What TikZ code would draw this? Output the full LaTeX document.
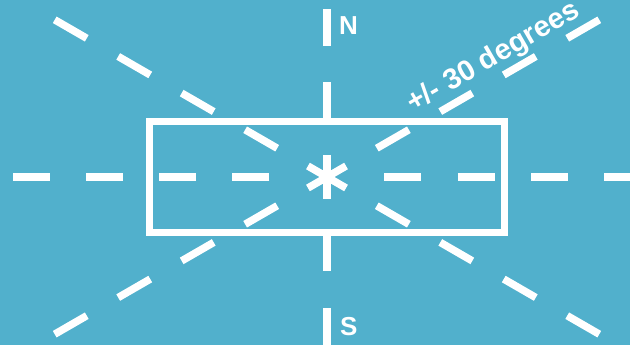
\documentclass[tikz,border=0pt]{standalone}
\usepackage{fontspec}
\setmainfont{Liberation Sans}
\definecolor{skyblue}{RGB}{81,176,204}
\tikzset{dashseg/.style={draw=white, line width=7.5pt},
  frame/.style={draw=white, line width=7pt},
  lbl/.style={text=white, font=\bfseries\fontsize{26}{30}\selectfont, inner sep=0pt}}

\begin{document}
\begin{tikzpicture}[x=1pt, y=1pt]
  \fill[skyblue] (-327,-168) rectangle (303,177);
  \useasboundingbox (-327,-168) rectangle (303,177);
  \clip (-327,-168) rectangle (303,177);
  % rays, four dashes on each side of the centre
  \foreach \a in {0,30,90,150,180,210,270,330}
    \foreach \k in {0,...,3}
      \draw[dashseg] (\a:{57.5+73.3*\k}) -- (\a:{94.5+73.3*\k});
  \draw[frame] (-177.3,-55.3) rectangle (177.3,55.3);
  % asterisk
  \foreach \a in {90,30,150}
    \draw[dashseg] (\a:22) -- (\a+180:22);
  \node[lbl] (north) at (21.5,151.2) {N};
  \node[lbl] (south) at (21.8,-150) {S};
  \node[lbl, font=\bfseries\fontsize{29}{33}\selectfont, rotate=30, anchor=base] (tilt) at (170.2,112.8) {+/- 30 degrees};
\end{tikzpicture}
\end{document}
